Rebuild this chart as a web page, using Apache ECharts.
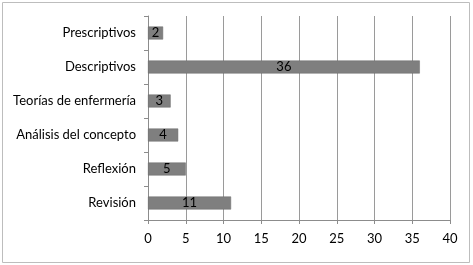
<!DOCTYPE html>
<html><head><meta charset="utf-8">
<script src="https://cdn.jsdelivr.net/npm/echarts@6/dist/echarts.min.js"></script>
<style>html,body{margin:0;padding:0;background:#fff}#c{width:473px;height:265px}</style>
</head><body><div id="c"></div>
<script>
const categories = ["Prescriptivos","Descriptivos","Teorías de enfermería","Análisis del concepto","Reflexión","Revisión"];
const values = [2,36,3,4,5,11];
const xTicks = [0,5,10,15,20,25,30,35,40];

const chart = echarts.init(document.getElementById('c'), null, {renderer:'canvas'});
const font = 'Lato, "Open Sans", sans-serif';
chart.setOption({
  animation:false,
  graphic:[{type:'rect',shape:{x:2.5,y:2.5,width:467,height:260},style:{fill:'none',stroke:'#bdbdbd',lineWidth:1},silent:true}],
  grid:{left:148,right:23,top:16,bottom:45,containLabel:false},
  xAxis:{type:'value',min:xTicks[0],max:xTicks[xTicks.length-1],interval:5,
    axisLine:{show:true,lineStyle:{color:'#8c8c8c'}},
    axisTick:{show:true,length:4,lineStyle:{color:'#8c8c8c'}},
    splitLine:{show:true,lineStyle:{color:'#9a9a9a',width:1}},
    axisLabel:{color:'#000',fontSize:13,fontFamily:font,margin:12}},
  yAxis:{type:'category',data:categories,inverse:true,
    axisLine:{show:true,lineStyle:{color:'#8c8c8c'}},
    axisTick:{show:true,length:4,lineStyle:{color:'#8c8c8c'}},
    axisLabel:{color:'#000',fontSize:13,fontFamily:font,margin:12}},
  series:[{type:'bar',data:values,barWidth:13,
    itemStyle:{color:'#7f7f7f',borderColor:'#6a6a6a',borderWidth:0.5},
    label:{show:true,position:'inside',color:'#000',fontSize:13,fontFamily:font}}]
});
</script></body></html>
